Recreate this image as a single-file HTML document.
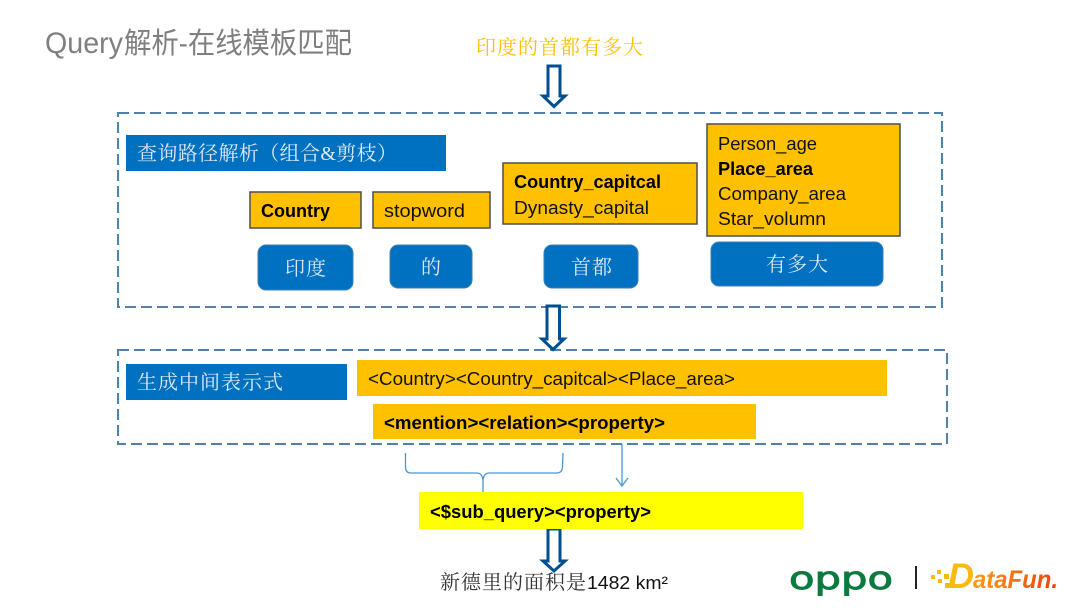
<!DOCTYPE html>
<html lang="zh">
<head>
<meta charset="utf-8">
<style>
html,body{margin:0;padding:0;background:#fff;width:1080px;height:608px;overflow:hidden}
svg{display:block}
.c{font-family:"Liberation Sans","Noto Sans CJK SC",sans-serif;font-size:18px;fill:#111}
.b{font-weight:bold;fill:#000}
.s{font-family:"Liberation Serif","Noto Serif CJK SC",serif;font-size:20px}
</style>
</head>
<body>
<svg width="1080" height="608" viewBox="0 0 1080 608" xmlns="http://www.w3.org/2000/svg">
<defs>
<linearGradient id="g" gradientUnits="userSpaceOnUse" x1="950" y1="0" x2="1058" y2="0"><stop offset="0" stop-color="#fdb913"/><stop offset="1" stop-color="#f0400f"/></linearGradient>
</defs>
<text x="45" y="53" font-family="'Liberation Sans',sans-serif" font-size="30" fill="#7f7f7f" textLength="78" lengthAdjust="spacingAndGlyphs">Query</text>
<text x="124" y="53" font-family="'Liberation Sans','Noto Sans CJK SC',sans-serif" font-size="29" fill="#7f7f7f" textLength="228" lengthAdjust="spacingAndGlyphs">解析-在线模板匹配</text>
<text x="476" y="54" class="s" fill="#ffc000" font-size="20" textLength="167">印度的首都有多大</text>

<g fill="none" stroke="#4f81ad" stroke-width="2" stroke-dasharray="11 5">
<rect x="118" y="113" width="824" height="194"/>
<rect x="118" y="350" width="829" height="94"/>
</g>

<g fill="#fff" stroke="#004f8f" stroke-width="3">
<path d="M548 66H560V96H565L554 106.500L543 96H548Z"/>
<path d="M547 306H559.500V339H564L553 349.500L542 339H547Z"/>
<path d="M548 529H560V561H565L554 571L543 561H548Z"/>
</g>

<g fill="#0070c0">
<rect x="126" y="135" width="320" height="36"/>
<rect x="126" y="364" width="221" height="36"/>
<g stroke="#3b7fb5" stroke-width="1">
<rect x="258" y="245" width="95" height="45" rx="8"/>
<rect x="390" y="245" width="82" height="43" rx="8"/>
<rect x="544" y="245" width="94" height="43" rx="8"/>
<rect x="711" y="242" width="172" height="44" rx="8"/>
</g>
</g>

<g fill="#ffc000" stroke="#4d4d4d" stroke-width="1.500">
<rect x="250" y="192" width="111" height="36"/>
<rect x="373" y="192" width="117" height="36"/>
<rect x="503" y="163" width="194" height="61"/>
<rect x="707" y="124" width="193" height="112"/>
</g>
<rect x="357" y="360" width="530" height="36" fill="#ffc000"/>
<rect x="373" y="404" width="383" height="35" fill="#ffc000"/>
<rect x="419" y="492" width="384" height="37" fill="#ffff00"/>

<g class="s">
<text x="137" y="160" textLength="260" fill="#dce9f5">查询路径解析（组合&amp;剪枝）</text>
<text x="137" y="389" textLength="146" fill="#dce9f5">生成中间表示式</text>
<text x="285" y="275" textLength="41" fill="#dce9f5">印度</text>
<text x="421" y="274" fill="#dce9f5">的</text>
<text x="571" y="274" textLength="41" fill="#dce9f5">首都</text>
<text x="766" y="271" textLength="62" fill="#dce9f5">有多大</text>
</g>

<text x="261" y="217" class="c b" textLength="69" lengthAdjust="spacingAndGlyphs">Country</text>
<text x="384" y="217" class="c" textLength="81" lengthAdjust="spacingAndGlyphs">stopword</text>
<text x="514" y="188" class="c b" textLength="147" lengthAdjust="spacingAndGlyphs">Country_capitcal</text>
<text x="514" y="214" class="c" textLength="135" lengthAdjust="spacingAndGlyphs">Dynasty_capital</text>
<text x="718" y="150" class="c" textLength="99" lengthAdjust="spacingAndGlyphs">Person_age</text>
<text x="718" y="175" class="c b" textLength="95" lengthAdjust="spacingAndGlyphs">Place_area</text>
<text x="718" y="200" class="c" textLength="128" lengthAdjust="spacingAndGlyphs">Company_area</text>
<text x="718" y="225" class="c" textLength="108" lengthAdjust="spacingAndGlyphs">Star_volumn</text>
<text x="368" y="385" class="c" textLength="367" lengthAdjust="spacingAndGlyphs">&lt;Country&gt;&lt;Country_capitcal&gt;&lt;Place_area&gt;</text>
<text x="384" y="429" class="c b" textLength="281" lengthAdjust="spacingAndGlyphs">&lt;mention&gt;&lt;relation&gt;&lt;property&gt;</text>
<text x="430" y="518" class="c b" textLength="221" lengthAdjust="spacingAndGlyphs">&lt;$sub_query&gt;&lt;property&gt;</text>

<text x="440" y="589" font-family="'Liberation Serif','Noto Serif CJK SC',serif" font-size="20" fill="#333" textLength="146">新德里的面积是</text>
<text x="587" y="589" class="c" fill="#222" textLength="81" lengthAdjust="spacingAndGlyphs">1482 km²</text>

<g fill="none" stroke="#4a96d2" stroke-width="1.300">
<path d="M405.500 453V467Q405.500 473 411 473H477Q482 473 483 480V492M483 480Q484 473 489 473H557Q562 473 562.500 467L563 453"/>
<path d="M622 444V486M616 478L622 486L628 478"/>
</g>

<text x="789" y="589" font-family="'DejaVu Sans',sans-serif" font-size="31" fill="#0b7a3e" stroke="#0b7a3e" stroke-width="0.900" textLength="104" lengthAdjust="spacingAndGlyphs">oppo</text>
<rect x="915" y="566" width="2" height="23" fill="#222"/>
<g fill="#fdb913">
<rect x="931" y="575" width="4" height="4"/><rect x="937" y="570" width="4" height="4"/><rect x="938" y="579" width="4" height="4"/><rect x="944" y="574" width="5" height="5"/><rect x="945" y="583" width="5" height="5"/>
</g>
<text x="948" y="588" font-family="'Liberation Sans',sans-serif" font-size="35" font-weight="bold" font-style="italic" fill="#fdb913" textLength="26" lengthAdjust="spacingAndGlyphs">D</text>
<text x="973" y="588" font-family="'Liberation Sans',sans-serif" font-size="25" font-weight="bold" font-style="italic" fill="url(#g)" textLength="85" lengthAdjust="spacingAndGlyphs">ataFun.</text>
</svg>
</body>
</html>
